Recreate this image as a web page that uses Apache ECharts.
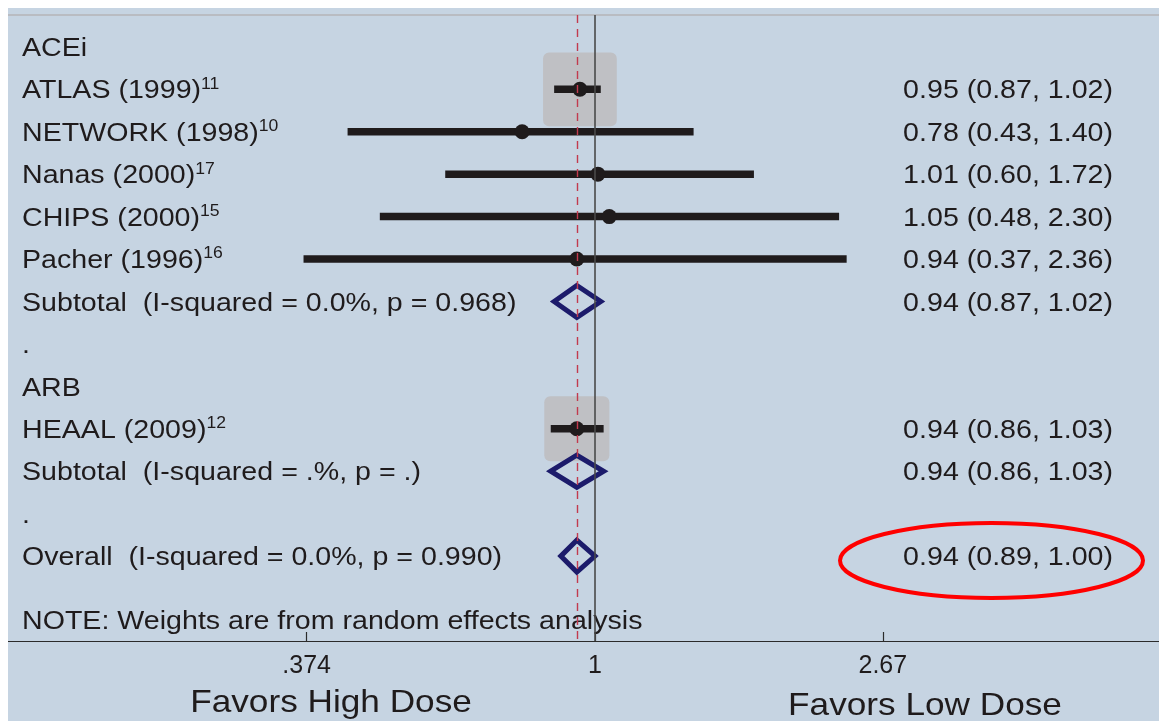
<!DOCTYPE html>
<html><head><meta charset="utf-8">
<script src="https://cdn.jsdelivr.net/npm/echarts@6/dist/echarts.min.js"></script>
<style>html,body{margin:0;padding:0;background:#fff}#c{width:1159px;height:721px}</style>
</head><body><div id="c"></div>
<script>
// ---- data ----
const rowLabels = ['ACEi','ATLAS (1999)','NETWORK (1998)','Nanas (2000)','CHIPS (2000)','Pacher (1996)',
  'Subtotal  (I-squared = 0.0%, p = 0.968)','.','ARB','HEAAL (2009)','Subtotal  (I-squared = .%, p = .)','.',
  'Overall  (I-squared = 0.0%, p = 0.990)'];
const rowSups = ['','11','10','17','15','16','','','','12','','',''];
const noteText = 'NOTE: Weights are from random effects analysis';
const noteRow = 13.5;

const studyRows = [1,2,3,4,5,9];
const studyEst = [0.95,0.78,1.01,1.05,0.94,0.94];
const studyLo  = [0.87,0.43,0.60,0.48,0.37,0.86];
const studyHi  = [1.02,1.40,1.72,2.30,2.36,1.03];
const studyWeight = [54.4,1.0,1.2,0.6,0.4,42.4];

const pooledRows = [6,10,12];
const pooledEst = [0.94,0.94,0.94];
const pooledLo  = [0.87,0.86,0.89];
const pooledHi  = [1.02,1.03,1.00];

const tickValues = [0.374,1,2.67];
const tickLabels = ['.374','1','2.67'];
const leftTitle = 'Favors High Dose';
const rightTitle = 'Favors Low Dose';

// ---- chart ----
const FONT = '"Liberation Sans", Arial, Helvetica, sans-serif';
const INK = '#1f1b1c';
const SX = 1.1;
const TXT_DY = 2;
const fmt = (e,l,h) => e.toFixed(2)+' ('+l.toFixed(2)+', '+h.toFixed(2)+')';

const leftItems = rowLabels.map((t,i)=>({row:i, text:t, sup:rowSups[i]}));
leftItems.push({row:noteRow, text:noteText, sup:''});
const rightItems = studyRows.map((r,i)=>({row:r, text:fmt(studyEst[i],studyLo[i],studyHi[i])}))
  .concat(pooledRows.map((r,i)=>({row:r, text:fmt(pooledEst[i],pooledLo[i],pooledHi[i])})));

const overallEst = pooledEst[pooledEst.length-1];

const chart = echarts.init(document.getElementById('c'), null, {renderer:'canvas'});
chart.setOption({
  animation:false,
  backgroundColor:'#c6d4e2',
  grid:{left:8,right:0,top:15,bottom:80},
  xAxis:[{
    type:'log', logBase:Math.E, min:0.135, max:6.85, position:'bottom',
    axisLine:{show:true,onZero:false,lineStyle:{color:'#2b2b2b',width:1.2}},
    axisTick:{show:true,inside:true,length:9,customValues:tickValues,lineStyle:{color:'#2b2b2b',width:1.2}},
    axisLabel:{customValues:tickValues,fontSize:25,fontFamily:FONT,color:INK,margin:13,
      formatter:v=>{for(let i=0;i<tickValues.length;i++){if(Math.abs(tickValues[i]-v)/tickValues[i]<1e-3)return tickLabels[i];}return '';}},
    splitLine:{show:false},minorTick:{show:false}
  },{
    type:'value', position:'top', min:0, max:1,
    axisLine:{show:true,onZero:false,lineStyle:{color:'#b9bcc2',width:2}},
    axisTick:{show:false},axisLabel:{show:false},splitLine:{show:false}
  }],
  yAxis:{type:'value',inverse:true,min:-0.75,max:14,show:false},
  graphic:[
    {type:'rect',shape:{x:0,y:0,width:1159,height:8},style:{fill:'#fff'},z:100},
    {type:'rect',shape:{x:0,y:0,width:8,height:721},style:{fill:'#fff'},z:100},
    {type:'text',x:331,y:703,scaleX:SX,z:100,style:{text:leftTitle,fontSize:32,fontFamily:FONT,fill:INK,align:'center',verticalAlign:'middle',textAlign:'center',textVerticalAlign:'middle'}},
    {type:'text',x:925,y:706,scaleX:SX,z:100,style:{text:rightTitle,fontSize:32,fontFamily:FONT,fill:INK,align:'center',verticalAlign:'middle',textAlign:'center',textVerticalAlign:'middle'}},
    {type:'ellipse',shape:{cx:991.5,cy:560.5,rx:151.5,ry:37.5},style:{fill:'none',stroke:'#ff0000',lineWidth:4},z:100}
  ],
  series:[
    { // left labels + reference lines
      type:'custom', z:1,
      data:leftItems.map((d,i)=>[1,d.row,i]),
      encode:{x:0,y:1},
      renderItem:(params,api)=>{
        const d = leftItems[api.value(2)];
        const y = api.coord([1,api.value(1)])[1] + TXT_DY;
        const cs = params.coordSys;
        const txt = d.sup ? '{m|'+d.text+'}{s|'+d.sup+'}' : '{m|'+d.text+'}';
        return {type:'text',x:cs.x+14,y:y,scaleX:SX,style:{text:txt,align:'left',verticalAlign:'middle',
          rich:{m:{fontSize:26,fontFamily:FONT,fill:INK,lineHeight:30},
                s:{fontSize:16,fontFamily:FONT,fill:INK,lineHeight:17,verticalAlign:'top'}}}};
      },
      markLine:{silent:true,symbol:['none','none'],label:{show:false},animation:false,
        data:[
          {xAxis:1,lineStyle:{color:'#4a4a4a',width:1.6,type:'solid'}},
          {xAxis:overallEst,lineStyle:{color:'#c23a4e',width:1.4,type:[8,6]}}
        ]}
    },
    { // right labels
      type:'custom', z:1,
      data:rightItems.map((d,i)=>[1,d.row,i]),
      encode:{x:0,y:1},
      renderItem:(params,api)=>{
        const d = rightItems[api.value(2)];
        const y = api.coord([1,api.value(1)])[1] + TXT_DY;
        const cs = params.coordSys;
        return {type:'text',x:cs.x+cs.width-46,y:y,scaleX:SX,style:{text:d.text,fontSize:26,fontFamily:FONT,fill:INK,
          align:'right',verticalAlign:'middle'}};
      }
    },
    { // studies
      type:'custom', z:3,
      data:studyRows.map((r,i)=>[studyEst[i],studyLo[i],studyHi[i],r,studyWeight[i]]),
      encode:{x:0,y:3},
      renderItem:(params,api)=>{
        const c = api.coord([api.value(0),api.value(3)]);
        const l = api.coord([api.value(1),api.value(3)]);
        const h = api.coord([api.value(2),api.value(3)]);
        const side = Math.sqrt(api.value(4))*10.0;
        return {type:'group',children:[
          {type:'rect',shape:{x:c[0]-side/2,y:c[1]-side/2,width:side,height:side,r:6},style:{fill:'#bfc0c4'}},
          {type:'line',shape:{x1:l[0],y1:l[1],x2:h[0],y2:h[1]},style:{stroke:INK,lineWidth:7.5,lineCap:'butt'}},
          {type:'circle',shape:{cx:c[0],cy:c[1],r:7.5},style:{fill:INK}}
        ]};
      }
    },
    { // pooled diamonds
      type:'custom', z:4,
      data:pooledRows.map((r,i)=>[pooledEst[i],pooledLo[i],pooledHi[i],r]),
      encode:{x:0,y:3},
      renderItem:(params,api)=>{
        const c = api.coord([api.value(0),api.value(3)]);
        const l = api.coord([api.value(1),api.value(3)]);
        const h = api.coord([api.value(2),api.value(3)]);
        const hh = 16;
        return {type:'polygon',shape:{points:[[l[0],l[1]],[c[0],c[1]-hh],[h[0],h[1]],[c[0],c[1]+hh]]},
          style:{fill:'none',stroke:'#1c1b6b',lineWidth:5,lineJoin:'miter'}};
      }
    }
  ]
});
</script></body></html>
